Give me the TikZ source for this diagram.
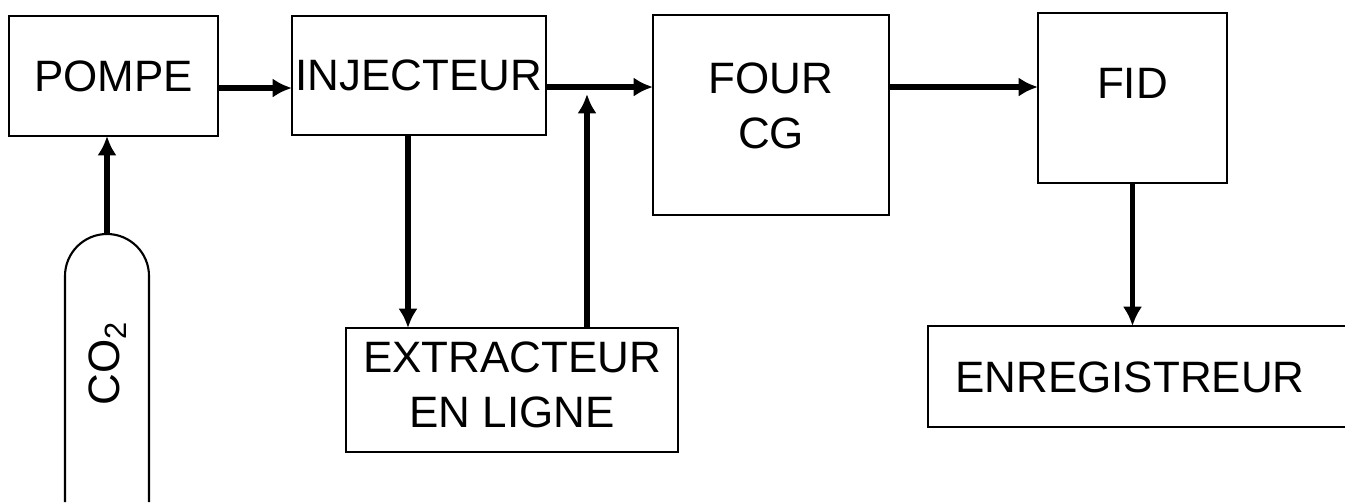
\documentclass[tikz,border=0pt]{standalone}
\usepackage{fontspec}
\setmainfont{Liberation Sans}
\usetikzlibrary{arrows.meta}

\begin{document}
\begin{tikzpicture}[x=0.01cm,y=-0.01cm,
    boite/.style={draw,line width=0.6pt,inner sep=0pt,outer sep=0pt,align=center,
      font=\fontsize{12.5}{15.5}\selectfont},
    texte/.style={align=center,inner sep=0pt,font=\fontsize{12.5}{15.5}\selectfont},
    fleche/.style={line width=1.5pt,-{Latex[length=5.5pt,width=5.5pt]}}]
    \useasboundingbox (0,0) rectangle (1345,502);
    % chaine principale en haut
    \node[boite,minimum width=2.09cm,minimum height=1.2cm] (pompe) at (113.5,76) {POMPE};
    \node[boite,minimum width=2.54cm,minimum height=1.19cm] (injecteur) at (419,75.5) {INJECTEUR};
    \node[boite,minimum width=2.36cm,minimum height=2.0cm] (four) at (771,115) {};
    \node[texte] (fourtxt) at ([yshift=0.09cm]four.center) {FOUR\\CG};
    \node[boite,minimum width=1.89cm,minimum height=1.7cm] (fid) at (1132.5,98) {};
    \node[texte] (fidtxt) at ([yshift=0.15cm]fid.center) {FID};
    % extracteur sous l'injecteur
    \node[boite,minimum width=3.32cm,minimum height=1.24cm] (extracteur) at (512,390) {};
    \node[texte] (extrtxt) at ([yshift=0.05cm]extracteur.center) {EXTRACTEUR\\EN LIGNE};
    % enregistreur, ouvert a droite
    \draw[line width=0.6pt] (1345,326) -- (928,326) -- (928,427) -- (1345,427);
    \node[texte] (enregistreur) at (1130,377) {ENREGISTREUR};
    \coordinate (enrhaut) at (1132.5,326);
    % bouteille de CO2, ouverte en bas
    \draw[line width=0.6pt] (65,502) -- (65,276) arc[start angle=180,end angle=360,radius=42] -- (149,502);
    \coordinate (bouteille) at (107,234);
    \node[texte,rotate=90] (co2) at (108,363) {CO\textsubscript{2}};
    % jonction du retour de l'extracteur
    \coordinate (jonction) at (587,87);
    % fleches
    \draw[fleche] (bouteille) -- (bouteille |- pompe.south);
    \draw[fleche] ([yshift=-0.12cm]pompe.east) -- ([yshift=-0.12cm]pompe.east -| injecteur.west);
    \draw[fleche] ([yshift=-0.115cm]injecteur.east) -- ([yshift=-0.115cm]injecteur.east -| four.west);
    \draw[fleche] ([xshift=-0.11cm]injecteur.south) -- ([xshift=-0.11cm]injecteur.south |- extracteur.north);
    \draw[fleche,shorten >=2pt] (jonction |- extracteur.north) -- (jonction);
    \draw[fleche] (four.east |- jonction) -- (fid.west |- jonction);
    \draw[fleche] (fid.south) -- (enrhaut);
\end{tikzpicture}
\end{document}
